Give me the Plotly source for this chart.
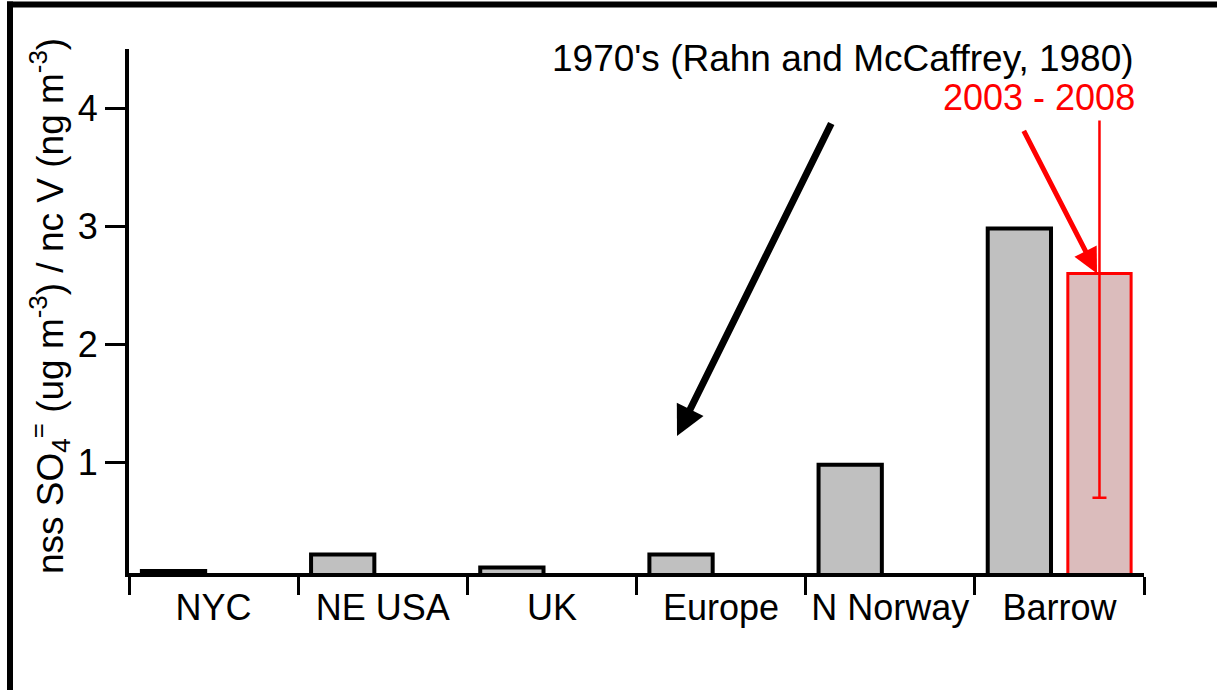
import plotly.graph_objects as go

# Regions and nss sulfate / non-crustal vanadium ratios
regions = ["NYC", "NE USA", "UK", "Europe", "N Norway", "Barrow"]
ratio_1970s = [0.08, 0.22, 0.11, 0.22, 0.98, 2.98]
ratio_2003_2008 = [None, None, None, None, None, 2.6]
err_2003_2008 = [None, None, None, None, None, 1.9]
y_ticks = [1, 2, 3, 4]

FONT = "Liberation Sans, Arial, Helvetica, sans-serif"
RED = "#ff0000"

# plot-area geometry (pixels) used for paper-coordinate conversion
W, H = 1217, 690
ML, MR, MT, MB = 129, 73, 49, 117
PW, PH = W - ML - MR, H - MT - MB


def px(x):
    return (x - ML) / PW


def py(y):
    return (H - MB - y) / PH


fig = go.Figure()
fig.add_trace(go.Bar(
    x=regions, y=ratio_1970s, name="1970's",
    marker=dict(color="#c0c0c0", line=dict(color="black", width=4)),
))
fig.add_trace(go.Bar(
    x=regions, y=ratio_2003_2008, name="2003 - 2008",
    marker=dict(color="#dbbcbc", line=dict(color=RED, width=3)),
    error_y=dict(type="data", array=err_2003_2008, color=RED,
                 thickness=2.5, width=7),
))

fig.update_layout(
    width=W, height=H,
    margin=dict(l=ML, r=MR, t=MT, b=MB),
    paper_bgcolor="white", plot_bgcolor="white",
    barmode="group", bargap=0.053, bargroupgap=0.21,
    showlegend=False,
    font=dict(family=FONT, size=36, color="black"),
)
fig.update_xaxes(
    type="category", tickson="boundaries",
    showline=True, linecolor="black", linewidth=4,
    ticks="outside", ticklen=18, tickwidth=3, tickcolor="black",
    showgrid=False, zeroline=False,
    tickfont=dict(family=FONT, size=36, color="black"),
)
fig.update_yaxes(
    range=[0.063, 4.5], tickvals=y_ticks,
    showline=True, linecolor="black", linewidth=4,
    ticks="outside", ticklen=20, tickwidth=3, tickcolor="black",
    showgrid=False, zeroline=False,
    tickfont=dict(family=FONT, size=36, color="black"),
)

annotations = [
    # axis title
    dict(text="nss SO<sub>4</sub><sup>=</sup> (ug m<sup>-3</sup>) / nc V (ng m<sup>-3</sup>)",
         xref="paper", yref="paper", x=px(49), y=py(306),
         xanchor="center", yanchor="middle", textangle=-90,
         showarrow=False, font=dict(family=FONT, size=37, color="black")),
    # period labels
    dict(text="2003 - 2008",
         xref="paper", yref="paper", x=px(1138), y=py(97),
         xanchor="right", yanchor="middle", showarrow=False,
         bgcolor="white", borderpad=2,
         font=dict(family=FONT, size=36, color=RED)),
    dict(text="1970's (Rahn and McCaffrey, 1980)",
         xref="paper", yref="paper", x=px(1135), y=py(58),
         xanchor="right", yanchor="middle", showarrow=False,
         bgcolor="white", borderpad=0,
         font=dict(family=FONT, size=37, color="black")),
    # arrows
    dict(text="", xref="paper", yref="paper", x=px(677), y=py(436),
         axref="pixel", ayref="pixel", ax=155, ay=-314,
         showarrow=True, arrowhead=2, arrowsize=0.85, arrowwidth=7,
         arrowcolor="black", standoff=0),
    dict(text="", xref="paper", yref="y", x=px(1097), y=ratio_2003_2008[-1],
         axref="pixel", ayref="pixel", ax=-74, ay=-144,
         showarrow=True, arrowhead=2, arrowsize=1.0, arrowwidth=5,
         arrowcolor=RED, standoff=0),
]
fig.update_layout(annotations=annotations)

# outer frame: top and left edges
frame = dict(color="black", width=6)
fig.add_shape(type="line", xref="paper", yref="paper",
              x0=px(7), x1=px(1230), y0=py(4.5), y1=py(4.5),
              line=frame, layer="above")
fig.add_shape(type="line", xref="paper", yref="paper",
              x0=px(10), x1=px(10), y0=py(1.5), y1=py(700),
              line=frame, layer="above")

fig.write_html("out.html", config={"displayModeBar": False})
